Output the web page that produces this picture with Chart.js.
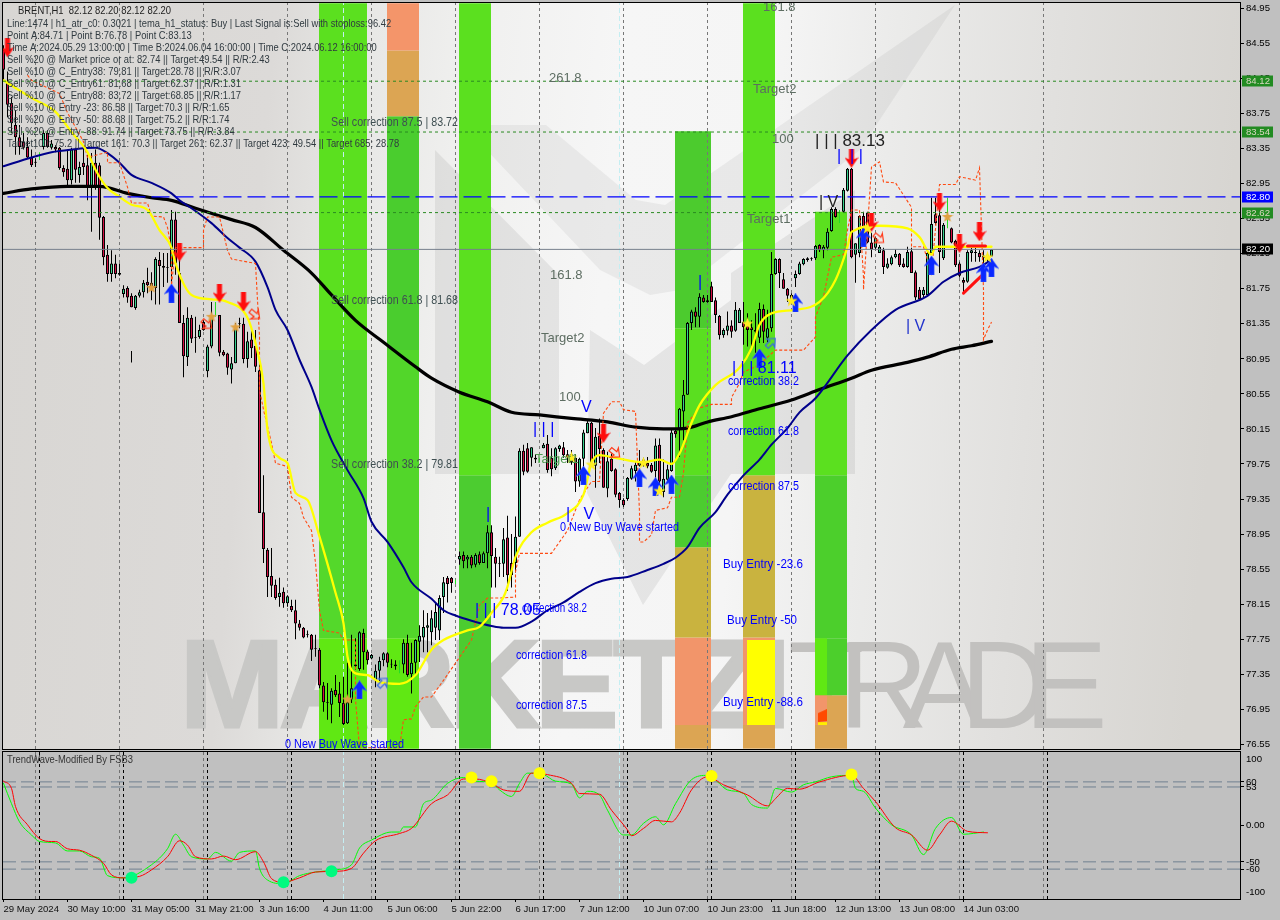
<!DOCTYPE html>
<html><head><meta charset="utf-8">
<style>html,body{margin:0;padding:0;background:#c0c0c0;width:1280px;height:920px;overflow:hidden}
canvas{position:absolute;left:0;display:block}</style>
<script src="https://cdn.jsdelivr.net/npm/chart.js@4"></script></head><body>
<canvas id="main" width="1280" height="750" style="top:0;width:1280px;height:750px"></canvas>
<canvas id="osc" width="1280" height="170" style="top:750px;width:1280px;height:170px"></canvas>
<script>
const opens=[84.48,84.11,83.87,83.62,83.48,83.43,83.37,83.25,83.20,83.28,
83.37,83.53,83.36,83.37,83.36,83.13,83.12,82.99,83.34,83.05,
83.19,83.16,82.90,83.19,83.16,82.57,82.14,81.92,82.04,81.93,
81.69,81.76,81.67,81.53,81.67,81.71,81.83,81.82,81.76,82.08,
82.01,82.00,82.00,82.54,81.93,81.36,80.97,81.42,81.20,81.20,
81.37,80.81,81.09,81.43,81.45,81.03,81.01,80.83,80.90,81.35,
81.35,80.95,81.17,81.10,80.82,79.20,78.77,78.47,78.37,78.23,
78.29,78.16,78.13,78.08,77.93,77.88,77.81,77.80,77.64,77.63,
77.22,77.03,77.00,77.17,77.13,77.02,76.79,77.06,77.44,77.41,
77.82,77.61,77.53,77.28,77.39,77.51,77.59,77.47,77.46,77.46,
77.46,77.71,77.35,77.48,77.72,77.77,77.88,77.83,77.88,77.85,
78.23,78.45,78.45,78.40,78.66,78.71,78.66,78.69,78.60,78.72,
78.62,78.73,78.97,78.69,78.62,78.61,78.91,78.62,78.62,78.92,
79.90,79.93,79.82,79.82,79.80,79.93,79.98,79.82,79.70,79.92,
79.94,79.86,79.77,79.82,79.55,79.81,80.10,80.22,79.73,80.07,
79.91,79.47,79.81,79.69,79.42,79.34,79.35,79.58,79.67,79.73,
79.76,79.76,79.74,79.67,79.97,79.43,79.57,79.67,80.13,80.14,
80.35,80.54,81.36,81.49,81.43,81.65,81.60,81.78,81.62,81.44,
81.22,81.27,81.33,81.27,81.36,81.37,81.37,81.31,81.28,81.19,
81.52,81.19,81.30,81.92,82.09,81.86,81.75,81.68,81.87,81.92,
82.03,82.08,82.09,82.10,82.25,82.19,82.22,82.41,82.66,82.56,
82.63,82.87,83.12,82.14,82.16,82.58,82.62,82.28,82.22,82.16,
82.19,81.99,82.03,82.11,82.15,82.04,82.00,82.18,81.94,81.74,
81.68,81.68,82.16,82.60,82.59,82.10,82.48,82.44,82.30,82.04,
81.85,81.83,82.16,82.16,82.16,82.13,82.14,82.12];
const highs=[84.53,84.23,83.94,83.79,83.62,83.53,83.48,83.34,83.24,83.31,
83.56,83.56,83.45,83.39,83.37,83.16,83.34,83.36,83.36,83.20,
83.37,83.28,83.30,83.34,83.19,82.58,82.25,82.19,82.14,82.04,
81.79,81.78,81.70,81.68,81.74,81.85,81.99,81.94,82.11,82.17,
82.16,82.16,82.65,82.63,82.10,81.45,81.54,81.45,81.43,81.34,
81.39,81.11,81.60,81.60,81.45,81.05,81.02,80.97,81.36,81.42,
81.42,81.26,81.29,81.28,80.91,79.62,78.79,78.79,78.43,78.45,
78.34,78.25,78.20,78.20,77.97,77.89,77.85,77.81,77.80,77.65,
77.26,77.25,77.19,77.34,77.26,77.32,77.48,77.80,77.76,77.84,
77.87,77.63,77.58,77.46,77.55,77.60,77.60,77.52,77.51,77.51,
77.75,77.80,77.71,77.75,77.91,78.08,78.05,78.08,78.16,78.25,
78.46,78.47,78.46,78.43,78.75,78.75,78.71,78.71,78.73,78.75,
78.75,79.05,79.05,78.79,78.69,79.02,79.16,78.95,79.15,79.93,
79.97,79.99,79.94,79.86,79.82,79.99,80.08,79.93,79.94,79.97,
80.00,79.91,79.91,79.86,79.82,80.14,80.24,80.23,80.16,80.27,
79.93,79.89,79.87,79.70,79.43,79.36,79.60,79.73,79.77,79.91,
79.82,79.83,79.76,80.04,80.04,79.80,79.74,80.14,80.16,80.39,
80.71,81.37,81.51,81.54,81.70,81.68,81.68,81.83,81.65,81.45,
81.30,81.49,81.39,81.60,81.53,81.60,81.47,81.39,81.47,81.59,
81.57,81.51,82.17,82.10,82.10,81.93,81.76,81.70,81.96,82.06,
82.10,82.11,82.11,82.25,82.26,82.25,82.44,82.68,82.68,82.65,
82.90,83.13,83.13,82.27,82.59,82.63,82.63,82.39,82.34,82.25,
82.22,82.10,82.13,82.20,82.16,82.10,82.23,82.22,81.96,81.77,
81.77,82.17,82.79,82.79,82.73,82.50,82.79,82.45,82.31,82.06,
81.88,82.19,82.25,82.22,82.19,82.19,82.16,82.20];
const lows=[84.13,83.71,83.53,83.28,83.28,83.34,83.24,83.14,83.14,83.22,
83.34,83.36,83.34,83.31,83.11,83.03,82.91,82.94,82.96,82.96,
83.05,82.76,82.40,82.88,82.31,82.02,81.83,81.83,81.87,81.90,
81.65,81.59,81.54,81.51,81.65,81.65,81.70,81.62,81.57,81.57,
81.77,81.82,81.83,81.91,81.36,80.74,80.87,81.13,81.02,81.18,
81.27,80.74,81.07,81.43,80.98,80.98,80.77,80.67,80.90,81.30,
80.90,80.85,80.96,80.80,79.19,78.62,78.23,78.23,78.20,78.12,
78.11,78.12,78.06,77.75,77.85,77.76,77.77,77.50,77.55,77.19,
76.92,76.83,76.79,77.09,76.86,76.77,76.78,77.02,77.40,77.39,
77.40,77.46,77.52,77.20,77.26,77.44,77.43,77.42,77.40,77.36,
77.36,77.32,77.13,77.34,77.49,77.60,77.60,77.68,77.74,77.74,
78.05,78.17,78.28,78.38,78.60,78.56,78.56,78.56,78.57,78.60,
78.62,78.56,78.34,78.34,78.46,78.46,78.30,78.34,78.51,78.92,
79.62,79.65,79.72,79.76,79.77,79.93,79.65,79.61,79.68,79.89,
79.82,79.76,79.74,79.43,79.49,79.62,80.10,79.73,79.48,79.76,
79.48,79.37,79.66,79.37,79.25,79.26,79.33,79.57,79.55,79.72,
79.72,79.70,79.65,79.45,79.42,79.37,79.55,79.66,80.05,79.83,
80.02,80.54,81.28,81.31,81.31,81.59,81.59,81.60,81.36,81.17,
81.19,81.22,81.19,81.26,81.36,81.11,81.09,81.09,81.02,81.13,
81.13,81.14,81.26,81.91,81.76,81.75,81.60,81.59,81.77,81.91,
82.02,82.06,82.07,82.08,82.17,82.10,82.19,82.40,82.56,82.50,
82.62,82.86,82.10,81.82,82.11,82.27,82.27,82.11,82.19,82.16,
81.92,81.98,82.02,82.10,82.00,81.99,81.99,81.93,81.62,81.62,
81.65,81.67,82.16,82.48,81.93,82.08,82.44,82.27,82.00,81.88,
81.70,81.82,82.06,82.06,82.06,81.93,82.06,82.12];
const closes=[84.25,83.85,83.64,83.48,83.37,83.36,83.25,83.16,83.19,83.28,
83.53,83.37,83.41,83.34,83.13,83.08,82.99,83.34,83.11,83.14,
83.14,82.90,83.19,82.91,82.56,82.11,81.92,82.04,81.92,81.91,
81.75,81.65,81.54,81.67,81.71,81.82,81.79,81.76,82.09,82.01,
81.99,81.99,82.54,82.04,81.36,80.98,81.42,81.18,81.19,81.28,
81.28,81.09,81.43,81.43,81.02,80.99,80.85,80.90,81.31,81.36,
80.95,81.15,81.07,80.86,79.19,78.78,78.46,78.36,78.22,78.28,
78.16,78.24,78.08,77.93,77.88,77.77,77.80,77.63,77.65,77.22,
77.03,77.02,77.16,77.11,77.02,76.78,77.03,77.19,77.46,77.83,
77.60,77.51,77.57,77.39,77.50,77.59,77.48,77.46,77.44,77.46,
77.71,77.34,77.48,77.74,77.79,77.89,77.91,77.99,78.06,78.22,
78.40,78.38,78.39,78.40,78.70,78.64,78.69,78.59,78.71,78.62,
78.73,78.97,78.70,78.61,78.61,78.89,78.48,78.48,78.92,79.90,
79.66,79.66,79.94,79.80,79.80,79.97,79.68,79.69,79.93,79.96,
79.85,79.83,79.86,79.55,79.81,80.11,80.22,79.74,80.06,79.92,
79.48,79.78,79.67,79.40,79.34,79.28,79.59,79.70,79.74,79.77,
79.80,79.72,79.66,79.96,79.55,79.58,79.69,80.11,80.09,80.38,
80.54,81.36,81.49,81.43,81.66,81.60,81.62,81.60,81.45,81.22,
81.28,81.33,81.26,81.51,81.51,81.31,81.28,81.28,81.26,81.52,
81.26,81.30,81.92,82.09,81.93,81.75,81.67,81.62,81.92,82.04,
82.09,82.10,82.10,82.24,82.19,82.23,82.40,82.66,82.57,82.56,
82.88,83.12,82.11,82.27,82.58,82.42,82.28,82.20,82.33,82.23,
82.00,82.04,82.11,82.15,82.02,82.00,82.17,81.93,81.65,81.63,
81.74,82.16,82.49,82.50,82.17,82.48,82.48,82.28,82.02,81.90,
81.82,82.17,82.19,82.17,82.11,82.10,82.09,82.20];

const blueIdx=[0,7,12,17,23,26,29,32,37,42,44,47,52,56,59,63,66,68,71,74,77,79,82,86,90,92,96,100,102,107,110,113,117,122,125,128,132,136,140,144,148,152,156,161,165,168,171,174,178,181,185,189,192,196,199,203,211,217,223,231,235,239,244,247];
const blueVal=[83.15,83.25,83.31,83.34,83.36,83.30,83.19,83.05,82.96,82.84,82.76,82.67,82.50,82.33,82.22,82.06,81.77,81.51,81.28,80.94,80.63,80.37,80.02,79.68,79.36,79.09,78.86,78.57,78.40,78.21,78.08,78.02,77.96,77.90,77.88,77.88,77.95,78.08,78.17,78.29,78.39,78.44,78.46,78.54,78.61,78.68,78.80,79.02,79.20,79.40,79.62,79.80,79.97,80.16,80.34,80.50,80.99,81.28,81.51,81.67,81.83,81.93,82.00,82.08];
const blackIdx=[0,7,16,24,31,37,42,48,57,63,70,77,82,88,95,103,107,114,121,127,134,142,151,158,165,171,176,182,189,197,204,212,217,226,231,237,242,247];
const blackVal=[82.84,82.89,82.92,82.92,82.84,82.79,82.76,82.67,82.54,82.45,82.19,81.93,81.68,81.39,81.14,80.86,80.73,80.57,80.46,80.34,80.31,80.27,80.23,80.17,80.15,80.16,80.23,80.29,80.38,80.48,80.60,80.73,80.82,80.91,80.97,81.06,81.10,81.15];
const yellowIdx=[0,7,13,17,21,23,26,29,32,36,39,42,43,47,52,56,61,63,65,66,69,71,73,76,79,83,85,86,88,91,94,99,103,107,110,116,119,122,125,126,128,132,136,141,145,147,149,153,160,164,167,169,172,174,178,184,187,189,192,198,204,208,211,212,219,226,229,232,233,238,247];
const yellowVal=[84.13,83.93,83.77,83.54,83.31,83.11,82.90,82.80,82.71,82.65,82.42,82.22,82.04,81.68,81.63,81.60,81.42,81.13,80.67,80.14,79.82,79.76,79.42,79.34,78.92,78.28,77.93,77.55,77.36,77.34,77.26,77.24,77.34,77.63,77.74,77.85,77.89,78.05,78.23,78.35,78.69,78.97,79.08,79.19,79.40,79.76,79.85,79.82,79.77,79.80,79.75,79.87,80.22,80.42,80.65,80.85,81.07,81.34,81.47,81.51,81.60,81.85,82.23,82.40,82.47,82.44,82.34,82.14,82.23,82.23,82.23];
const orangeIdx=[6,7,14,16,20,21,26,26,29,31,32,36,37,40,41,42,42,43,50,50,51,54,56,57,63,64,64,65,67,68,71,72,74,75,77,78,79,80,84,85,88,88,89,99,100,102,103,105,107,110,117,119,121,124,128,128,129,137,141,144,147,149,150,152,154,155,158,159,159,160,162,163,166,167,169,170,171,174,177,182,182,184,185,189,191,193,200,203,203,205,207,210,211,212,214,215,215,216,217,219,220,223,227,227,230,232,234,238,239,243,244,245,245,246,247];
const orangeVal=[84.19,84.13,83.98,83.76,83.43,83.25,83.31,83.19,83.19,82.91,82.73,82.73,82.58,82.57,82.45,82.19,81.79,82.22,82.22,82.42,82.57,82.57,82.19,82.09,82.04,81.20,80.60,80.37,79.99,79.76,79.72,79.37,79.30,79.14,78.99,78.62,78.08,77.85,77.82,77.74,77.74,77.06,76.51,76.51,76.83,76.84,76.98,77.09,77.09,77.28,77.74,78.14,78.22,78.22,78.23,78.52,78.73,78.73,78.99,79.34,79.55,79.55,80.33,80.46,80.46,80.37,80.35,79.19,78.86,78.86,78.94,79.22,79.25,79.37,79.37,79.65,80.22,80.39,80.43,80.43,80.51,80.67,80.80,80.88,80.97,81.05,81.05,81.20,81.43,81.66,82.11,82.14,82.42,82.65,82.65,81.88,81.74,82.45,83.14,83.20,82.97,82.96,82.68,82.23,82.23,81.93,82.94,82.94,83.03,82.99,83.13,81.74,81.17,81.28,81.37];

const redArrowIdx=[1,44,54,60,150,212,217,234,239,244];
const redArrowVal=[84.50,82.17,81.70,81.60,80.10,83.24,82.51,82.74,82.27,82.40];
const blueArrowIdx=[42,89,145,159,163,167,189,198,215,232,245,247];
const blueArrowVal=[81.70,77.17,79.62,79.59,79.49,79.52,80.96,81.59,82.34,82.02,81.94,81.99];
const starIdx=[142,147,160,164,186,197,216,246];
const starVal=[79.82,79.74,79.76,79.44,81.35,81.61,82.44,82.11];
const orangeStarIdx=[37,52,58,236,86];
const orangeStarVal=[81.76,81.43,81.31,82.57,77.06];
const hollowRedIdx=[51,63,153,219];
const hollowRedVal=[81.34,81.45,79.87,82.32];
const hollowBlueIdx=[95,192];
const hollowBlueVal=[77.25,81.13];

const bandFrom=[79,96,114,168,185,203];
const bandTo=[91,104,122,177,193,211];
const segBand=[0,0,0, 1,1,1,1,1, 2,2, 3,3,3,3,3,3, 4,4,4,4, 5,5,5,5];
const segHi=[85.01,81.05,77.76, 85.01,84.47,83.72,81.05,77.76, 85.01,79.62, 83.55,81.30,79.62,78.80,77.77,76.77, 85.01,79.62,77.77,76.77, 82.63,79.62,77.76,77.11];
const segLo=[81.05,77.76,76.50, 84.47,83.72,81.05,77.76,76.50, 79.62,76.50, 81.30,79.62,78.80,77.77,76.77,76.50, 79.62,77.77,76.77,76.50, 79.62,77.76,77.11,76.50];
const segColor=['#5be01f','#54d82b','#60e813','#f4956a','#dca553','#4acd2e','#52d62a','#60e813','#5be01f','#4ccc30','#4ccb2e','#5adf20','#4ccc30','#c9b33f','#f2956a','#dca553','#5be01f','#c9b33f','#f2956a','#dca553','#5be01f','#4ccf2c','#4ccf2c','#dca553'];
const overFrom=[186,203,203], overTo=[193,206,206];
const overHi=[77.74,77.76,77.11], overLo=[76.77,77.11,76.77];
const overColor=['#ffff00','#60e813','#f2956a'];

const priceTicks=[84.95,84.55,84.15,83.75,83.35,82.95,82.55,82.15,81.75,81.35,80.95,80.55,80.15,79.75,79.35,78.95,78.55,78.15,77.75,77.35,76.95,76.55];
const greenLevels=[84.12,83.54,82.62];
const blueLevel=82.80, lastPrice=82.20;
const tagValues=[84.12,83.54,82.80,82.62,82.20];
const tagColors=['#228b22','#228b22','#0000ff','#228b22','#000000'];
const gridIdx=[8,29,50,71,92,113,134,155,176,197,218,239,260];
const gridOscIdx=[9,30,51,72,93,114,135,156,177,198,219,240,261];
const cyanIdx=[85,154];

const redLineIdx=[0,2,3,6,9,12,13,16,19,22,25,27,30,34,37,41,44,46,48,52,55,58,63,65,67,70,74,78,83,87,90,93,99,102,107,111,115,118,122,125,129,132,136,142,144,149,152,156,157,160,163,167,169,172,176,180,186,191,193,196,199,204,212,215,218,223,227,231,234,237,241,246];
const redLineVal=[61,51,26,1,-18,-22,-22,-32,-34,-41,-52,-68,-72,-70,-61,-43,-21,-27,-43,-46,-42,-47,-36,-50,-73,-78,-72,-64,-63,-59,-38,-21,-11,-4,30,42,64,64,58,49,47,72,70,58,44,43,21,-6,-14,-4,7,5,17,49,67,56,42,27,37,51,50,60,69,51,33,-3,-13,-34,-13,6,-8,-10];
const greenLineIdx=[0,2,4,7,9,13,16,19,22,24,26,30,37,41,43,45,47,51,53,57,59,63,64,66,70,74,78,83,87,89,92,97,99,100,103,105,107,111,115,118,122,124,127,129,131,135,138,142,144,146,149,151,155,157,160,163,165,168,172,176,181,185,187,191,193,197,200,203,207,212,213,215,218,222,227,230,233,237,240,245];
const greenLineVal=[58,30,5,-13,-22,-24,-35,-35,-43,-45,-69,-72,-54,-32,-12,-27,-43,-46,-37,-49,-37,-35,-59,-75,-80,-69,-64,-61,-54,-31,-20,-9,-9,-2,-2,30,35,58,66,61,59,49,40,58,72,70,61,57,38,47,42,21,-13,-13,3,12,1,30,63,69,49,44,29,24,51,46,56,60,67,69,51,47,24,1,-13,-40,-4,11,-12,-9];
const oscLevels=[60,53,-50,-60];
const oscTicks=[60,53,0,-50,-60];
const springIdx=[32,70,82], springVal=[-72,-78,-63];
const goldIdx=[117,122,134,177,212], goldVal=[66,61,72,68,70];
const timeTickIdx=[0,16,32,48,64,80,96,112,128,144,160,176,192,208,224,240];
const timeLabels=['29 May 2024','30 May 10:00','31 May 05:00','31 May 21:00','3 Jun 16:00','4 Jun 11:00','5 Jun 06:00','5 Jun 22:00','6 Jun 17:00','7 Jun 12:00','10 Jun 07:00','10 Jun 23:00','11 Jun 18:00','12 Jun 13:00','13 Jun 08:00','14 Jun 03:00'];

const infoLines=['Line:1474 | h1_atr_c0: 0.3021 | tema_h1_status: Buy | Last Signal is:Sell with stoploss:96.42',
'Point A:84.71 | Point B:76.78 | Point C:83.13',
'Time A:2024.05.29 13:00:00 | Time B:2024.06.04 16:00:00 | Time C:2024.06.12 16:00:00',
'Sell %20 @ Market price or at: 82.74 || Target:49.54 || R/R:2.43',
'Sell %10 @ C_Entry38: 79.81 || Target:28.78 || R/R:3.07',
'Sell %10 @ C_Entry61: 81.68 || Target:62.37 || R/R:1.31',
'Sell %10 @ C_Entry88: 83.72 || Target:68.85 || R/R:1.17',
'Sell %10 @ Entry -23: 86.58 || Target:70.3 || R/R:1.65',
'Sell %20 @ Entry -50: 88.68 || Target:75.2 || R/R:1.74',
'Sell %20 @ Entry -88: 91.74 || Target:73.75 || R/R:3.84',
'Target100: 75.2 || Target 161: 70.3 || Target 261: 62.37 || Target 423: 49.54 || Target 685: 28.78'];

const FONT='"Liberation Sans"';
const SLATE='#3f4f52', BLUE='#0000ff', GREY='#5d6d62';
const notes=[
['Sell correction 87.5 | 83.72',331,123,SLATE,12,127],['Sell correction 61.8 | 81.68',331,301,SLATE,12,127],['Sell correction 38.2 | 79.81',331,465,SLATE,12,127],
['261.8',549,78,GREY,13],['161.8',763,7,GREY,13],['Target2',753,89,GREY,13],['100',772,139,GREY,13],['Target1',747,219,GREY,13],
['161.8',550,275,GREY,13],['Target2',541,338,GREY,13],['100',559,397,GREY,13],['Target1',535,459,'#4f9a4f',13],
['0 New Buy Wave started',560,528,BLUE,12,119],['0 New Buy Wave started',285,745,BLUE,12,119],
['correction 38.2',728,382,BLUE,12,71],['correction 61.8',728,432,BLUE,12,71],['correction 87.5',728,487,BLUE,12,71],
['Buy Entry -23.6',723,565,BLUE,12,80],['Buy Entry -50',727,621,BLUE,12,70],['Buy Entry -88.6',723,703,BLUE,12,80],
['| | | 78.05',475,611,BLUE,16],['correction 38.2',522,609,BLUE,12,65],['correction 61.8',516,656,BLUE,12,71],['correction 87.5',516,706,BLUE,12,71],
['| | | 81.11',732,369,BLUE,16],['| | | 83.13',815,141,'#222222',17],
['V',581,408,BLUE,16],['|   V',566,515,BLUE,16],['| | |',533,430,BLUE,16],['|',486,515,BLUE,16],['|',698,283,BLUE,16],
['|  | |',837,157,BLUE,16],['| V',819,203,'#222222',16],['| V',906,327,'#2233cc',16]
];

const PXB=4; // pixels per bar on the time axis
const X_MIN=-0.125, X_MAX=309.125, Y_MIN=76.496, Y_MAX=85.013;
const pts=(a,b)=>a.map((x,i)=>({x,y:b[i]}));

function glyph(w,h,draw){const c=document.createElement('canvas');c.width=w;c.height=h;draw(c.getContext('2d'));return c;}
function arrowPath(g,w,h,up){
  const p=[[w/2,0],[w,h*0.55],[w*0.68,h*0.45],[w*0.68,h],[w*0.32,h],[w*0.32,h*0.45],[0,h*0.55]];
  g.beginPath();p.forEach((q,i)=>{const y=up?q[1]:h-q[1];i?g.lineTo(q[0],y):g.moveTo(q[0],y);});g.closePath();
}
const redArrow=glyph(14,19,g=>{arrowPath(g,14,19,false);g.fillStyle='#ff0d0d';g.fill();});
const blueArrow=glyph(15,19,g=>{arrowPath(g,15,19,true);g.fillStyle='#0a28ff';g.fill();g.strokeStyle='rgba(90,120,255,.45)';g.stroke();});
const hollowRed=glyph(15,15,g=>{g.translate(7,7);g.rotate(Math.PI*0.72);g.translate(-6,-6);arrowPath(g,12,12,true);g.strokeStyle='#ff3a1a';g.lineWidth=1.2;g.stroke();});
const hollowBlue=glyph(15,15,g=>{g.translate(7,7);g.rotate(Math.PI*0.25);g.translate(-6,-6);arrowPath(g,12,12,true);g.strokeStyle='#3a6ae0';g.lineWidth=1.2;g.stroke();});
function starGlyph(col,s){return glyph(s,s,g=>{g.beginPath();for(let i=0;i<10;i++){const r=i%2?s*0.2:s*0.5,a=-Math.PI/2+i*Math.PI/5,x=s/2+r*Math.cos(a),y=s/2+r*Math.sin(a);i?g.lineTo(x,y):g.moveTo(x,y);}g.closePath();g.fillStyle=col;g.fill();});}
const flame=glyph(9,16,g=>{g.fillStyle='#ff4a00';g.beginPath();g.moveTo(0,4);g.lineTo(9,0);g.lineTo(9,12);g.lineTo(0,13);g.closePath();g.fill();g.fillStyle='#ffee00';g.fillRect(0,13,9,3);});

function marks(a,b,img,order){return {type:'line',showLine:false,data:pts(a,b),pointStyle:img,pointRadius:8,order,xAxisID:'x'};}
function lineDs(a,b,color,width,order,extra){return Object.assign({type:'line',data:pts(a,b),borderColor:color,borderWidth:width,pointRadius:0,tension:0,order,xAxisID:'x',borderJoinStyle:'round',borderCapStyle:'round',fill:false},extra||{});}
function hLine(v,color,dash,width,order){return lineDs([X_MIN,X_MAX],[v,v],color,width,order,{borderDash:dash,borderCapStyle:'butt'});}
function vLine(i,lo,hi,color,dash,order){return lineDs([i,i],[lo,hi],color,1,order,{borderDash:dash,borderCapStyle:'butt'});}
const smooth={cubicInterpolationMode:'monotone'};

const wickColor=i=>opens[i]===closes[i]?'#22e022':'#000';
const datasets=[];
segBand.forEach((b,k)=>datasets.push({type:'bar',xAxisID:'xb',grouped:false,order:100,inflateAmount:0,
  data:[{x:(bandFrom[b]+bandTo[b])/2-0.125,y:[segLo[k],segHi[k]]}],barThickness:(bandTo[b]-bandFrom[b])*PXB,maxBarThickness:(bandTo[b]-bandFrom[b])*PXB,backgroundColor:segColor[k],borderWidth:0}));
overFrom.forEach((f,k)=>datasets.push({type:'bar',xAxisID:'xc',grouped:false,order:99,inflateAmount:0,
  data:[{x:(f+overTo[k])/2-0.125,y:[overLo[k],overHi[k]]}],barThickness:(overTo[k]-f)*PXB,maxBarThickness:(overTo[k]-f)*PXB,backgroundColor:overColor[k],borderWidth:0}));
gridIdx.forEach(i=>datasets.push(vLine(i,Y_MIN,Y_MAX,'#777777',[3,3],70)));
cyanIdx.forEach(i=>datasets.push(vLine(i,Y_MIN,Y_MAX,'#c4eef2',[5,3],69)));
datasets.push({type:'bar',xAxisID:'x',grouped:false,order:60,inflateAmount:0,barThickness:1,maxBarThickness:1,
  data:opens.map((_,i)=>({x:i,y:[lows[i],highs[i]]})),backgroundColor:c=>wickColor(c.dataIndex),borderWidth:0});
datasets.push({type:'bar',xAxisID:'x',grouped:false,order:59,inflateAmount:0,barThickness:3,maxBarThickness:3,borderSkipped:false,
  data:opens.map((_,i)=>({x:i,y:[opens[i],closes[i]]})),
  backgroundColor:c=>closes[c.dataIndex]>=opens[c.dataIndex]?'#35d08c':'#d40f44',
  borderColor:'#000',borderWidth:c=>opens[c.dataIndex]===closes[c.dataIndex]?0:1});
datasets.push({type:'bar',xAxisID:'x',grouped:false,order:58,inflateAmount:0,barThickness:1,maxBarThickness:1,data:[{x:32,y:[80.91,81.04]}],backgroundColor:'#000',borderWidth:0});
datasets.push(lineDs(blackIdx,blackVal,'#000000',3.2,40,smooth));
datasets.push(lineDs(blueIdx,blueVal,'#00008b',2,39,smooth));
datasets.push(lineDs(orangeIdx,orangeVal,'#ff4a12',1.1,38,{borderDash:[3,2],borderCapStyle:'butt',borderJoinStyle:'miter'}));
datasets.push(lineDs(yellowIdx,yellowVal,'#ffff00',2.3,37,smooth));
greenLevels.forEach(v=>datasets.push(hLine(v,'#2a8a22',[3,3],1,30)));
datasets.push(lineDs([1,X_MAX],[blueLevel,blueLevel],'#0000ff',1.2,31,{borderDash:[18,6],borderCapStyle:'butt'}));
datasets.push(hLine(lastPrice,'#77808c',[],1,32));
datasets.push(lineDs([240,245],[81.70,81.92],'#ff1010',3,20));
datasets.push(lineDs([241,245.5],[82.24,82.24],'#ff1010',3,20));
datasets.push(marks(orangeStarIdx,orangeStarVal,starGlyph('#e0a040',12),12));
datasets.push(marks(hollowRedIdx,hollowRedVal,hollowRed,12));
datasets.push(marks(hollowBlueIdx,hollowBlueVal,hollowBlue,12));
datasets.push(marks(redArrowIdx,redArrowVal,redArrow,11));
datasets.push(marks(blueArrowIdx,blueArrowVal,blueArrow,11));
datasets.push(marks(starIdx,starVal,starGlyph('#ffee22',13),10));
datasets.push(marks([204.75],[76.86],flame,10));

function poly(c,p){c.beginPath();p.forEach((q,i)=>i?c.lineTo(q[0],q[1]):c.moveTo(q[0],q[1]));c.closePath();c.fill();}
const backdrop={id:'backdrop',beforeDatasetsDraw(ch){
  const c=ch.ctx,a=ch.chartArea;c.save();
  const g=c.createLinearGradient(a.left,a.top,a.right,a.top+110);
  g.addColorStop(0,'#d8d6d3');g.addColorStop(.22,'#dcdad8');g.addColorStop(.3,'#e8e8e6');g.addColorStop(.38,'#f0f0ef');g.addColorStop(.5,'#f6f6f6');g.addColorStop(.62,'#f5f5f5');g.addColorStop(.72,'#ebebea');g.addColorStop(.85,'#e1e0de');g.addColorStop(1,'#d7d5d1');
  c.fillStyle=g;c.fillRect(a.left,a.top,a.right-a.left,a.bottom-a.top);
  c.fillStyle='rgba(110,110,110,.12)';
  poly(c,[[435,150],[559,275],[559,474],[435,474]]);
  poly(c,[[590,330],[644,365],[731,300],[731,474],[675,557],[643,605],[587,493]]);
  poly(c,[[731,273],[855,190],[855,474],[731,474]]);
  c.fillStyle='rgba(110,110,110,.09)';
  poly(c,[[463,125],[546,125],[636,200],[665,205],[955,5],[860,150],[680,290],[650,295],[600,270]]);
  c.textBaseline='alphabetic';c.textAlign='left';c.lineJoin='miter';
  c.fillStyle='#c8c8c6';c.strokeStyle='#c8c8c6';c.lineWidth=3;
  c.font='bold 125px '+FONT;c.letterSpacing='-5px';
  c.fillText('MARKETZI',180,727);c.strokeText('MARKETZI',180,727);
  c.fillStyle='#c2c1bf';
  c.font='125px '+FONT;c.letterSpacing='-26px';
  c.fillText('TRADE',788,728);
  c.letterSpacing='0px';
  c.restore();
}};
const overlay={id:'overlay',afterDatasetsDraw(ch){
  const c=ch.ctx;c.save();c.textBaseline='middle';c.textAlign='left';
  notes.forEach(n=>{c.fillStyle=n[3];c.font=n[4]+'px '+FONT;n[5]?c.fillText(n[0],n[1],n[2],n[5]):c.fillText(n[0],n[1],n[2]);});
  c.fillStyle='#222';c.font='10.6px '+FONT;
  c.fillText('BRENT,H1  82.12 82.20 82.12 82.20',18,11,153);
  infoLines.forEach((t,i)=>{c.fillStyle='#303a40';c.fillText(t,7,24+12*i,c.measureText(t).width*0.885);});
  c.restore();
},afterDraw(ch){
  const c=ch.ctx,a=ch.chartArea,y=ch.scales.y;c.save();
  c.strokeStyle='#000';c.lineWidth=1;c.strokeRect(a.left-0.5,a.top-0.5,a.right-a.left+1,a.bottom-a.top+1);
  c.textBaseline='middle';c.textAlign='left';c.font='9.6px '+FONT;
  tagValues.forEach((v,i)=>{const p=Math.round(y.getPixelForValue(v));c.fillStyle=tagColors[i];c.fillRect(1242,p-5.5,31,11);c.fillStyle=i===4||i===2?'#fff':'#d8d8c0';c.fillText(v.toFixed(2),1246,p+0.5);});
  c.restore();
}};
const sideFit=s=>{s.width=40;s.paddingTop=s.paddingBottom=0;};
const axisFont={family:'"Liberation Sans"',size:9.6};
const mainX=()=>({type:'linear',min:X_MIN,max:X_MAX,display:false,offset:false,afterBuildTicks:s=>{s.ticks=[{value:X_MIN}];}});
new Chart(document.getElementById('main'),{type:'bar',data:{datasets},plugins:[backdrop,overlay],options:{
  responsive:false,animation:false,devicePixelRatio:1,events:[],
  layout:{autoPadding:false,padding:{left:3,top:3,right:0,bottom:1}},
  plugins:{legend:{display:false},tooltip:{enabled:false}},
  scales:{x:{...mainX(),afterBuildTicks:s=>{s.ticks=timeTickIdx.map(v=>({value:v}));}},xb:mainX(),xc:mainX(),
    y:{type:'linear',position:'right',min:Y_MIN,max:Y_MAX,afterBuildTicks:s=>{s.ticks=priceTicks.map(v=>({value:v}));},afterFit:sideFit,
      grid:{drawOnChartArea:false,drawTicks:true,tickLength:4,color:'#000'},border:{display:true,color:'#000'},
      ticks:{font:axisFont,color:'#000',padding:2,autoSkip:false,maxRotation:0,callback:v=>v.toFixed(2)}}}
}});

const oscSets=[];
const OMIN=-101.1,OMAX=101.1;
oscLevels.forEach(v=>oscSets.push(hLine(v,'#708090',[13,5],1,50)));
gridIdx.forEach(i=>oscSets.push(vLine(i,OMIN,OMAX,'#707070',[3,3],45)));
gridOscIdx.forEach(i=>oscSets.push(vLine(i,OMIN,OMAX,'#000000',[3,3],44)));
cyanIdx.forEach(i=>oscSets.push(vLine(i,OMIN,OMAX,'#c4eef2',[5,3],43)));
oscSets.push(lineDs(greenLineIdx,greenLineVal,'#00ff00',1,20,smooth));
oscSets.push(lineDs(redLineIdx,redLineVal,'#ff0000',1,19,smooth));
oscSets.push({type:'line',showLine:false,data:pts(springIdx,springVal),pointRadius:6,pointBackgroundColor:'#00fa7f',pointBorderWidth:0,order:5,xAxisID:'x'});
oscSets.push({type:'line',showLine:false,data:pts(goldIdx,goldVal),pointRadius:6,pointBackgroundColor:'#ffff00',pointBorderWidth:0,order:5,xAxisID:'x'});
const oscOverlay={id:'oscOverlay',afterDraw(ch){
  const c=ch.ctx,a=ch.chartArea;c.save();
  c.strokeStyle='#000';c.lineWidth=1;c.strokeRect(a.left-0.5,a.top-0.5,a.right-a.left+1,a.bottom-a.top+1);
  c.textBaseline='middle';c.textAlign='left';c.font='9.6px '+FONT;c.fillStyle='#000';
  c.fillText('100',1246,9);c.fillText('-100',1246,142);
  c.fillStyle='#333';c.font='10.4px '+FONT;c.fillText('TrendWave-Modified By FSB3',7,10,126);
  c.restore();
}};
new Chart(document.getElementById('osc'),{type:'line',data:{datasets:oscSets},plugins:[oscOverlay],options:{
  responsive:false,animation:false,devicePixelRatio:1,events:[],
  layout:{autoPadding:false,padding:{left:3,top:2,right:0,bottom:0}},
  plugins:{legend:{display:false},tooltip:{enabled:false}},
  scales:{
    x:{type:'linear',min:X_MIN,max:X_MAX,offset:false,afterBuildTicks:s=>{s.ticks=timeTickIdx.map(v=>({value:v}));},
      afterFit:s=>{s.height=21;s.paddingLeft=s.paddingRight=0;},
      grid:{drawOnChartArea:false,drawTicks:true,tickLength:3,color:'#000'},border:{display:true,color:'#000'},
      ticks:{align:'start',font:axisFont,color:'#111',padding:2,maxRotation:0,autoSkip:false,callback:(v,i)=>timeLabels[i]}},
    y:{type:'linear',position:'right',min:OMIN,max:OMAX,afterBuildTicks:s=>{s.ticks=oscTicks.map(v=>({value:v}));},afterFit:sideFit,
      grid:{drawOnChartArea:false,drawTicks:true,tickLength:4,color:'#000'},border:{display:true,color:'#000'},
      ticks:{font:axisFont,color:'#000',padding:2,autoSkip:false,callback:v=>v===0?'0.00':String(v)}}}
}});
</script></body></html>
